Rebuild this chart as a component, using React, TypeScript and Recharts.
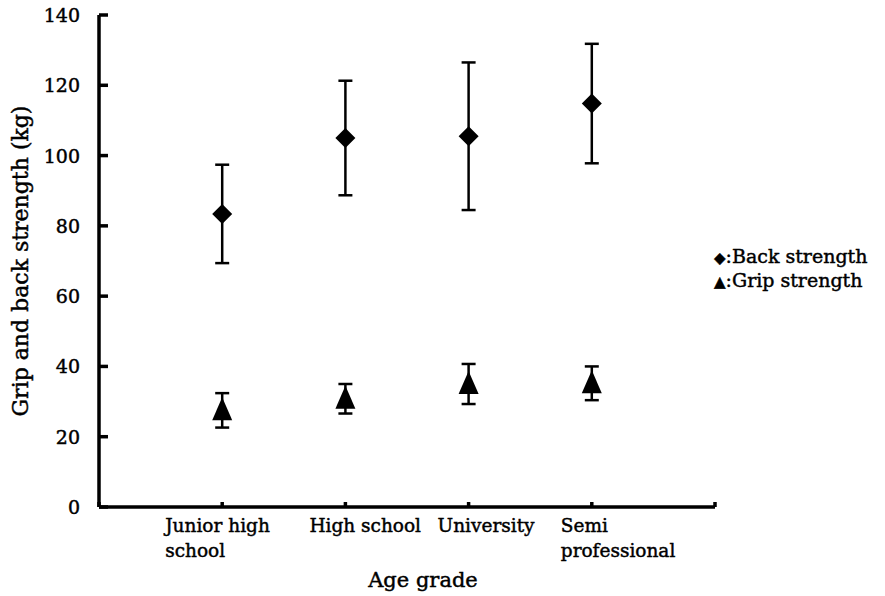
import {
  ComposedChart, ErrorBar, Label, Legend, Scatter, XAxis, YAxis,
} from "recharts";

// Age grades
const grades = ["Junior high school", "High school", "University", "Semi professional"];
// two-line tick labels as printed
const gradeLines = [["Junior high", "school"], ["High school"], ["University"], ["Semi", "professional"]];
// mean ± SD (kg)
const backMean = [83.4, 105, 105.5, 114.8];
const backSd = [14, 16.3, 21, 17];
const gripMean = [27.5, 30.8, 35, 35.2];
const gripSd = [4.9, 4.2, 5.7, 4.8];
const yTicks = [0, 20, 40, 60, 80, 100, 120, 140];
const xTicks = [0, 1, 2, 3, 4, 5];

const FONT = "'DejaVu Serif', 'Liberation Serif', serif";
const INK = "#000";
// scanned print is heavy, thicken the glyphs a little
const TXT = { fontFamily: FONT, fill: INK, stroke: INK, strokeWidth: 0.45 };

const rows = grades.map((g, i) => ({
  x: i + 1, grade: g,
  back: backMean[i], backErr: backSd[i],
  grip: gripMean[i], gripErr: gripSd[i],
}));

function Diamond({ cx, cy }: { cx?: number; cy?: number }) {
  if (cx == null || cy == null) return null;
  return <path d={`M${cx},${cy - 10} L${cx + 10},${cy} L${cx},${cy + 10} L${cx - 10},${cy} Z`} fill={INK} />;
}
function Triangle({ cx, cy }: { cx?: number; cy?: number }) {
  if (cx == null || cy == null) return null;
  return <path d={`M${cx},${cy - 13} L${cx + 10},${cy + 10} L${cx - 10},${cy + 10} Z`} fill={INK} />;
}

// tick labels sit left of the axis, tick marks point inward (right)
function YTick({ x, y, payload }: any) {
  const ax = x + 19;
  return (
    <g>
      <line x1={ax} x2={ax + 9} y1={y} y2={y} stroke={INK} strokeWidth={3.5} />
      <text x={x} y={y} dy={7} textAnchor="end" fontSize={19} {...TXT}>
        {payload.value}
      </text>
    </g>
  );
}

// label left edge relative to the tick (the print isn't centred consistently)
const labelDx = [-57, -36, -31, -31];

function XTick({ x, y, payload }: any) {
  const ay = y - 10;
  const v = payload.value as number;
  const lines = v >= 1 && v <= 4 ? gradeLines[v - 1] : [];
  return (
    <g>
      <line x1={x} x2={x} y1={ay} y2={ay - 5} stroke={INK} strokeWidth={3.5} />
      {lines.map((s, k) => (
        <text key={k} x={x + labelDx[v - 1]} y={ay + 25 + k * 25} textAnchor="start"
              fontSize={18.5} {...TXT}>{s}</text>
      ))}
    </g>
  );
}

function LegendBox() {
  return (
    <div style={{
      fontFamily: FONT, fontSize: 19, color: INK, lineHeight: "22px",
      WebkitTextStroke: "0.45px #000", whiteSpace: "nowrap",
    }}>
      <div><span style={{ fontSize: 15 }}>◆</span>:Back strength</div>
      <div><span style={{ fontSize: 15 }}>▲</span>:Grip strength</div>
    </div>
  );
}

export default function App() {
  return (
    <div style={{ position: "absolute", left: 0, top: 0, width: 885, height: 596, background: "#fff" }}>
      <ComposedChart width={885} height={596} data={rows}
                     margin={{ top: 15, right: 170, bottom: 0, left: 0 }}>
        <XAxis dataKey="x" type="number" domain={[0, 5]} ticks={xTicks}
               axisLine={{ stroke: INK, strokeWidth: 3.5 }} tickLine={false}
               tickSize={0} tickMargin={10} height={89} tick={<XTick />} interval={0}>
          <Label content={({ viewBox }: any) => (
            <text x={viewBox.x + viewBox.width / 2 + 16} y={587} textAnchor="middle"
                  fontSize={21} {...TXT}>Age grade</text>
          )} />
        </XAxis>
        <YAxis type="number" domain={[0, 140]} ticks={yTicks} width={99}
               axisLine={{ stroke: INK, strokeWidth: 3.5 }} tickLine={false}
               tickSize={0} tickMargin={19} tick={<YTick />} interval={0}>
          <Label content={({ viewBox }: any) => {
            const cy = viewBox.y + viewBox.height / 2;
            return (
              <text x={28} y={cy} transform={`rotate(-90 28 ${cy})`} textAnchor="middle"
                    fontSize={22} {...TXT}>Grip and back strength (kg)</text>
            );
          }} />
        </YAxis>
        <Legend layout="horizontal" align="center" verticalAlign="middle" content={<LegendBox />}
                wrapperStyle={{ left: 714, top: 245, width: 171, height: 46 }} />
        <Scatter name="Back strength" dataKey="back" fill={INK} shape={<Diamond />} isAnimationActive={false}>
          <ErrorBar dataKey="backErr" direction="y" width={7} stroke={INK} strokeWidth={2.5} />
        </Scatter>
        <Scatter name="Grip strength" dataKey="grip" fill={INK} shape={<Triangle />} isAnimationActive={false}>
          <ErrorBar dataKey="gripErr" direction="y" width={7} stroke={INK} strokeWidth={2.5} />
        </Scatter>
      </ComposedChart>
    </div>
  );
}
